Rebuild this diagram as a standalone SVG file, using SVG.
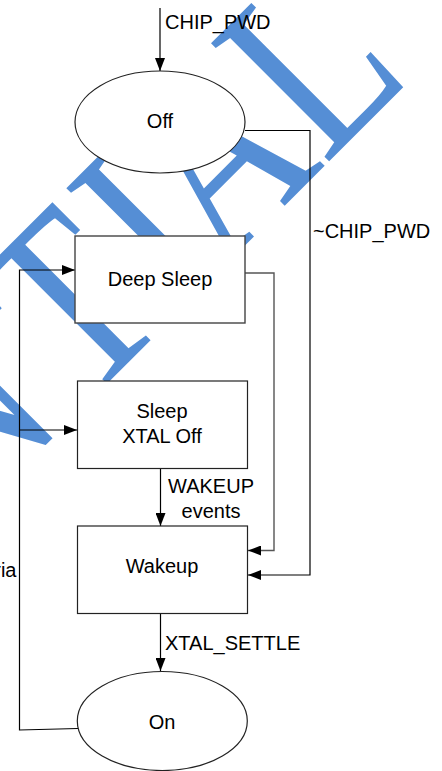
<svg xmlns="http://www.w3.org/2000/svg" width="442" height="771" viewBox="0 0 442 771">
<style>
.lbl{font-family:"Liberation Sans",Arial,sans-serif;font-size:20px;fill:#000}
.c{text-anchor:middle}
.node{fill:#fff;stroke:#222;stroke-width:1.2}
.box{fill:#fff;stroke:#444;stroke-width:1.4}
.ln{fill:none;stroke:#000;stroke-width:1.2}
.lg{fill:none;stroke:#555;stroke-width:1.4}
.wm{font-family:"Liberation Serif","Times New Roman",serif;font-size:255px;fill:#558ed5}
</style>
<defs>
<marker id="ah" viewBox="0 0 13 10" refX="13" refY="5" markerWidth="13" markerHeight="10" markerUnits="userSpaceOnUse" orient="auto">
<path d="M0,0 L13,5 L0,10 Z" fill="#000"/>
</marker>
</defs>
<rect width="442" height="771" fill="#fff"/>
<g id="watermark" transform="rotate(-45) scale(0.8,1)">
<text class="wm" y="347" x="-1603 -1433 -1249 -1065 -923 -838 -654 -498 -284 -117 -42 141">CONFIDENTIAL</text>
</g>
<g id="connectors">
<line class="ln" x1="160" y1="8" x2="160" y2="71" marker-end="url(#ah)"/>
<polyline class="ln" points="245,130.5 310,130.5 310,575 248,575" marker-end="url(#ah)"/>
<polyline class="lg" points="245,273 274,273 274,550.5 248,550.5" marker-end="url(#ah)"/>
<polyline class="ln" points="78,728.5 19.5,730 19.5,270 75,270" marker-end="url(#ah)"/>
<polyline class="ln" points="19.5,430 77,430" marker-end="url(#ah)"/>
<line class="ln" x1="160.5" y1="469" x2="160.5" y2="526" marker-end="url(#ah)"/>
<line class="ln" x1="160.5" y1="614" x2="160.5" y2="671" marker-end="url(#ah)"/>
<text class="lbl" x="165" y="29">CHIP_PWD</text>
<text class="lbl" x="313" y="238">~CHIP_PWD</text>
<text class="lbl c" x="211" y="493">WAKEUP</text>
<text class="lbl c" x="211" y="518">events</text>
<text class="lbl" x="165" y="650">XTAL_SETTLE</text>
<text class="lbl" x="16.5" y="577" text-anchor="end">ria</text>
</g>
<g id="off">
<ellipse class="node" cx="160" cy="122" rx="85" ry="51"/>
<text class="lbl c" x="160" y="128">Off</text>
</g>
<g id="deep-sleep">
<rect class="box" x="75" y="236" width="170" height="87"/>
<text class="lbl c" x="160" y="286">Deep Sleep</text>
</g>
<g id="sleep">
<rect class="node" x="77.5" y="381" width="170" height="87.5"/>
<text class="lbl c" x="162" y="418">Sleep</text>
<text class="lbl c" x="162" y="443">XTAL Off</text>
</g>
<g id="wakeup">
<rect class="node" x="77.5" y="526" width="170" height="87.5"/>
<text class="lbl c" x="162" y="573">Wakeup</text>
</g>
<g id="on">
<ellipse class="node" cx="162.3" cy="721" rx="85" ry="49.5"/>
<text class="lbl c" x="162" y="729">On</text>
</g>
</svg>
